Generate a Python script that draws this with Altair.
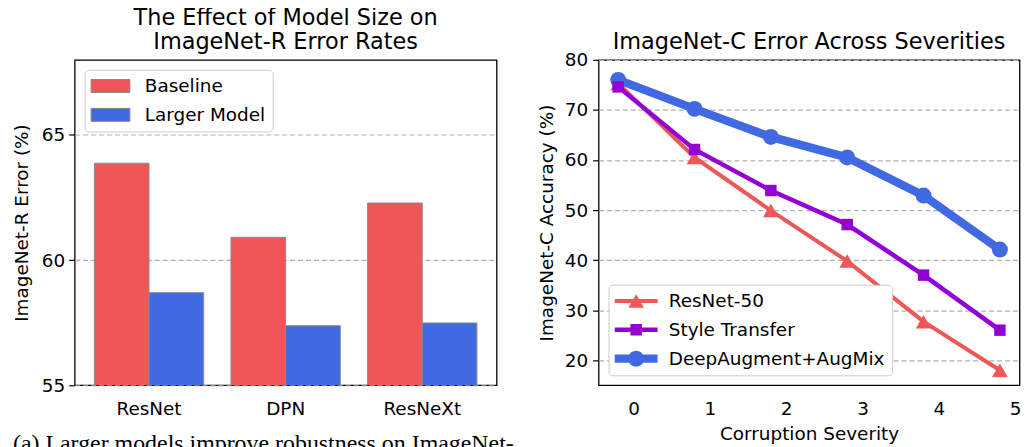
import altair as alt
import pandas as pd

# ---------------- Left panel data ----------------
architectures = ["ResNet", "DPN", "ResNeXt"]
baseline_err = [63.87, 60.91, 62.28]
larger_err = [58.70, 57.38, 57.49]
bar_groups = ["Baseline", "Larger Model"]
bar_colors = ["#EF5757", "#4169E1"]
left_y_ticks = [55, 60, 65]
left_y_domain = [55, 68]

# ---------------- Right panel data ----------------
severity_pos = [-0.2, 0.8, 1.8, 2.8, 3.8, 4.8]
severity_ticks = [0, 1, 2, 3, 4, 5]
resnet50 = [75.3, 60.5, 49.9, 39.8, 27.7, 18.0]
style_transfer = [74.6, 62.1, 53.9, 47.1, 37.0, 26.0]
deepaug = [76.0, 70.2, 64.6, 60.5, 52.9, 42.1]
series_names = ["ResNet-50", "Style Transfer", "DeepAugment+AugMix"]
series_colors = ["#EF5757", "#9400D3", "#4169E1"]
right_y_ticks = [20, 30, 40, 50, 60, 70, 80]
right_y_domain = [15, 80]
right_x_domain = [-0.457, 5.057]

caption = "(a) Larger models improve robustness on ImageNet-"

FONT = "DejaVu Sans"
TICK_FS = 18.5
TITLE_FS = 22.5
GRID_DASH = [5, 3]
GRID_COLOR = "#b0b0b0"

# ---------------- Left panel ----------------
bars_df = pd.DataFrame({
    "arch": architectures * 2,
    "group": [bar_groups[0]] * 3 + [bar_groups[1]] * 3,
    "err": baseline_err + larger_err,
})

bars = alt.Chart(bars_df).mark_bar(stroke="#8a8a8a", strokeWidth=1, clip=True).encode(
    x=alt.X("arch:N", sort=architectures,
            scale=alt.Scale(paddingInner=0.2, paddingOuter=0.144),
            axis=alt.Axis(title=None, labelAngle=0, ticks=False, tickSize=0,
                          labelPadding=14, domain=False, grid=False)),
    xOffset=alt.XOffset("group:N", sort=bar_groups,
                        scale=alt.Scale(paddingInner=0, paddingOuter=0)),
    y=alt.Y("err:Q", scale=alt.Scale(domain=left_y_domain, zero=False, nice=False),
            axis=alt.Axis(values=left_y_ticks, title="ImageNet-R Error (%)",
                          grid=True, gridDash=GRID_DASH, gridColor=GRID_COLOR,
                          gridWidth=1.2, tickSize=6, labelPadding=4,
                          titlePadding=10, domain=False)),
    color=alt.Color("group:N",
                    scale=alt.Scale(domain=bar_groups, range=bar_colors),
                    legend=alt.Legend(
                        title=None, orient="top-left", offset=10,
                        symbolType="M-1.5,-1H4.5V1H-1.5Z", symbolSize=169,
                        symbolStrokeColor="#8a8a8a", symbolStrokeWidth=1,
                        labelFontSize=TICK_FS, labelFont=FONT, labelColor="black",
                        labelOffset=35, labelLimit=0, padding=7, rowPadding=10,
                        strokeColor="#cccccc", fillColor="white", cornerRadius=4)),
)

caption_df = pd.DataFrame({"caption": [caption]})
caption_text = alt.Chart(caption_df).mark_text(
    font="Liberation Serif", fontSize=24, align="left", baseline="alphabetic",
    color="black"
).encode(text="caption:N", x=alt.value(-62), y=alt.value(393))

left = alt.layer(bars, caption_text).properties(
    width=424, height=327,
    title=alt.TitleParams(["The Effect of Model Size on", "ImageNet-R Error Rates"],
                          fontSize=TITLE_FS, lineHeight=25, offset=6,
                          fontWeight="normal", font=FONT, color="black"),
)

# ---------------- Right panel ----------------
series_values = {
    "ResNet-50": resnet50,
    "Style Transfer": style_transfer,
    "DeepAugment+AugMix": deepaug,
}
rows = []
for name in series_names:
    for xp, v in zip(severity_pos, series_values[name]):
        rows.append({"series": name, "sev": xp, "acc": v})
right_df = pd.DataFrame(rows)

x_enc = alt.X("sev:Q", scale=alt.Scale(domain=right_x_domain, nice=False, zero=False),
              axis=alt.Axis(values=severity_ticks, format="d", title="Corruption Severity",
                            ticks=False, tickSize=0, labelPadding=14, titlePadding=7,
                            domain=False, grid=False, labelFlush=False))
y_enc = alt.Y("acc:Q", scale=alt.Scale(domain=right_y_domain, nice=False, zero=False),
              axis=alt.Axis(values=right_y_ticks, title="ImageNet-C Accuracy (%)",
                            grid=True, gridDash=GRID_DASH, gridColor=GRID_COLOR,
                            gridWidth=1.2, tickSize=6, labelPadding=5,
                            titlePadding=8, domain=False))

line_width = {"ResNet-50": 4, "Style Transfer": 4.5, "DeepAugment+AugMix": 8.5}
marker_shape = {"ResNet-50": "triangle-up", "Style Transfer": "square",
                "DeepAugment+AugMix": "circle"}
marker_size = {"ResNet-50": 246, "Style Transfer": 132, "DeepAugment+AugMix": 256}
color_of = dict(zip(series_names, series_colors))
draw_order = ["ResNet-50", "DeepAugment+AugMix", "Style Transfer"]

layers = []
for name in draw_order:
    base = alt.Chart(right_df).transform_filter(alt.datum.series == name)
    layers.append(base.mark_line(color=color_of[name], strokeWidth=line_width[name])
                  .encode(x=x_enc, y=y_enc))
    layers.append(base.mark_point(filled=True, opacity=1, color=color_of[name],
                                  shape=marker_shape[name], size=marker_size[name])
                  .encode(x=x_enc, y=y_enc))

# legend symbols: line segment + marker (unit = 8 px for symbolSize 256)
legend_paths = [
    "M-1.25,-0.25H4.125V0.25H-1.25Z M1.4375,-0.85L2.4175,0.85L0.4575,0.85Z",
    "M-1.25,-0.28H4.125V0.28H-1.25Z M0.7175,-0.72H2.1575V0.72H0.7175Z",
    "M-1.25,-0.53H4.125V0.53H-1.25Z M0.4375,0A1,1 0 1,1 2.4375,0A1,1 0 1,1 0.4375,0Z",
]
legend_cfg = dict(
    title=None, orient="bottom-left", offset=10, symbolSize=256,
    symbolOpacity=1, symbolStrokeWidth=0,
    labelFontSize=TICK_FS, labelFont=FONT, labelColor="black",
    labelOffset=35, labelLimit=0, padding=7, rowPadding=10,
    strokeColor="#cccccc", fillColor="white", cornerRadius=4,
)
legend_layer = alt.Chart(right_df).mark_point(filled=True, opacity=0).encode(
    x=x_enc, y=y_enc,
    color=alt.Color("series:N", scale=alt.Scale(domain=series_names, range=series_colors),
                    legend=alt.Legend(**legend_cfg)),
    shape=alt.Shape("series:N", scale=alt.Scale(domain=series_names, range=legend_paths),
                    legend=alt.Legend(**legend_cfg)),
)
layers.append(legend_layer)

right = alt.layer(*layers).properties(
    width=423, height=327,
    title=alt.TitleParams("ImageNet-C Error Across Severities",
                          fontSize=TITLE_FS, offset=7, dy=10, fontWeight="normal",
                          font=FONT, color="black"),
)

chart = alt.hconcat(left, right, spacing=20.5).resolve_scale(
    color="independent", shape="independent"
).properties(
    padding={"left": 3, "top": -4, "right": 0, "bottom": 0}
).configure(font=FONT).configure_view(
    stroke="black", strokeWidth=1.3
).configure_axis(
    labelFont=FONT, titleFont=FONT, labelFontSize=TICK_FS, titleFontSize=TICK_FS,
    labelColor="black", titleColor="black", titleFontWeight="normal",
    tickColor="black", tickWidth=1.2
)

chart.save("out.html", embed_options={"renderer": "svg", "actions": False})
